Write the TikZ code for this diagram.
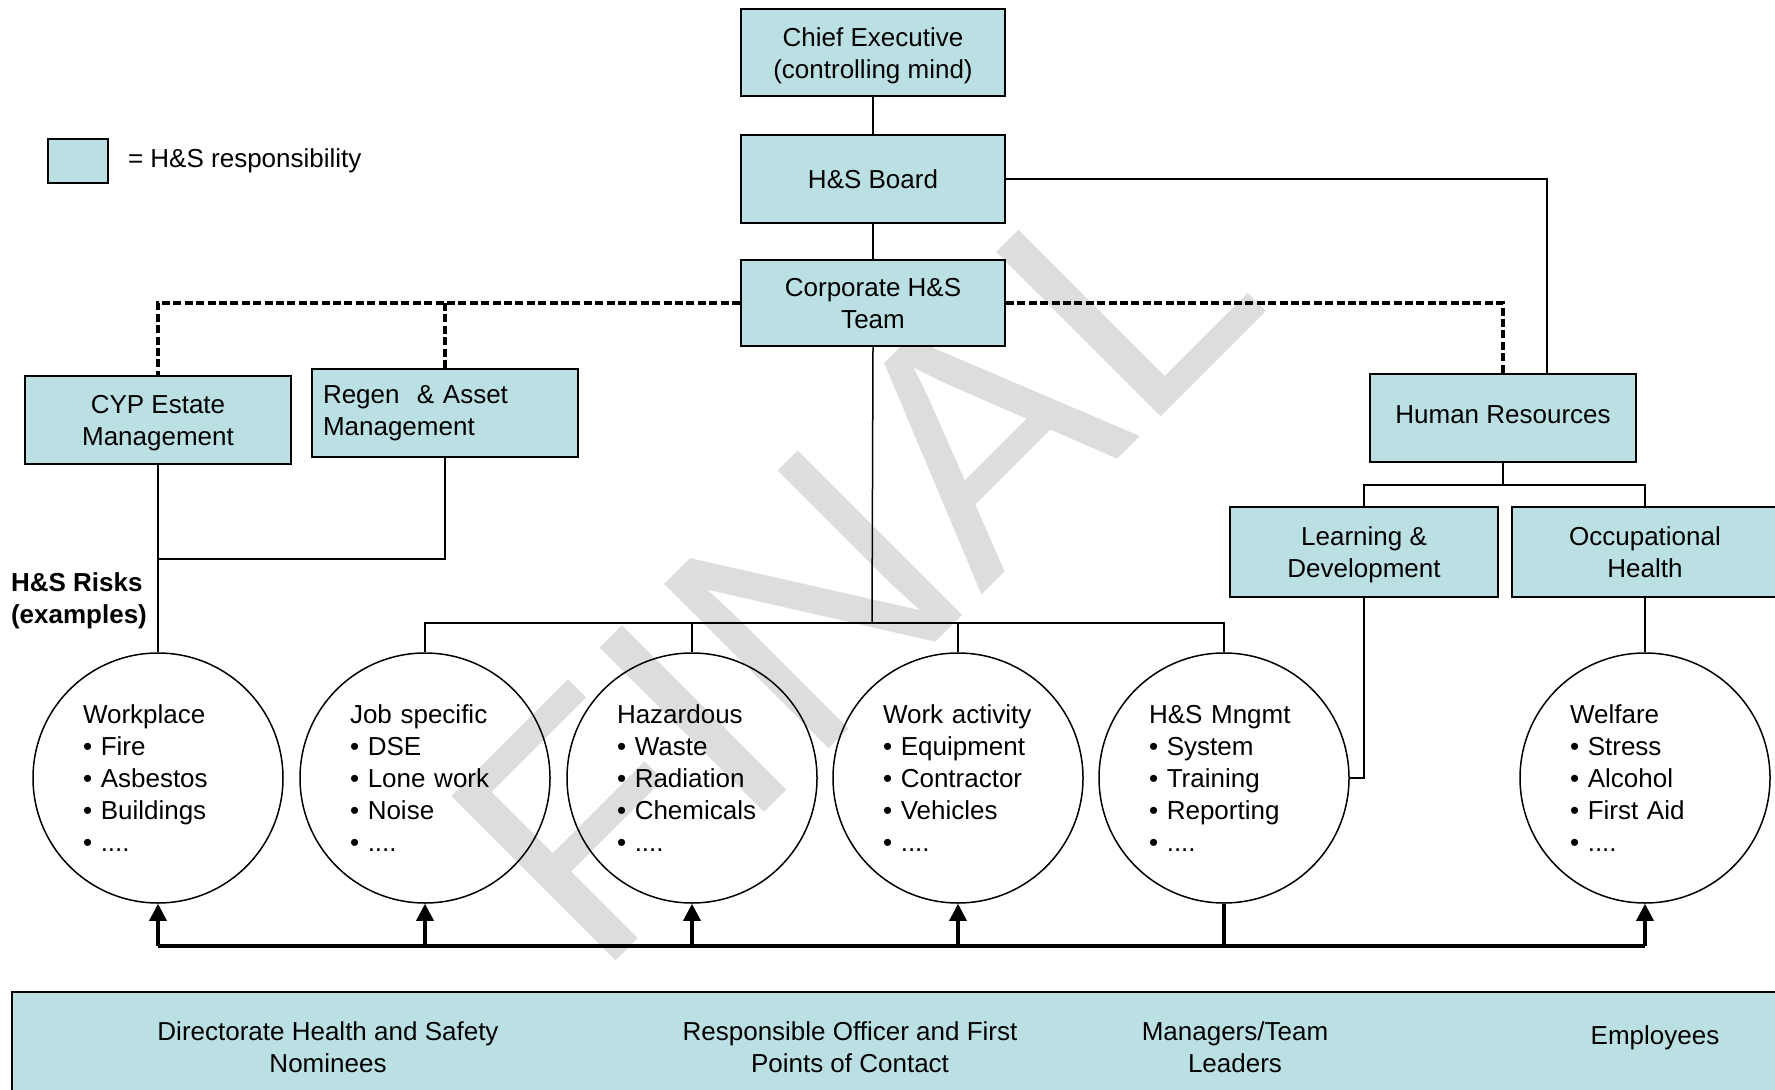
\documentclass[tikz,border=0pt]{standalone}
\usepackage{fontspec}
\setmainfont{Liberation Sans}
\usetikzlibrary{arrows.meta}
\usetikzlibrary{positioning}
\definecolor{hsblue}{RGB}{187,224,227}
\definecolor{wmgray}{RGB}{221,221,221}
\tikzset{
    hsbox/.style={draw=black, fill=hsblue, line width=1pt, align=center, inner sep=5pt,
        text depth=0pt, font=\fontsize{13}{16}\selectfont},
    riskcircle/.style={draw=black, circle, line width=0.75pt, minimum size=125pt,
        text width=75pt, align=left, font=\fontsize{13}{16}\selectfont},
    stafftext/.style={align=center, text depth=0pt, font=\fontsize{13}{16}\selectfont},
    link/.style={draw=black, line width=0.75pt},
    dottedlink/.style={draw=black, line width=1.8pt, dash pattern=on 4pt off 1.7pt},
    busline/.style={draw=black, line width=1.6pt},
    busarrow/.style={draw=black, line width=1.6pt, -{Triangle[width=8.5pt,length=8.5pt]}},
}

\begin{document}
\begin{tikzpicture}[x=0.5pt, y=-0.5pt]
	\useasboundingbox (0,0) rectangle (1775,1090);
	\node[rotate=45, text=wmgray, font=\fontsize{169}{169}\selectfont] (wm) at (853,560) {FINAL};
	% legend
	\node[hsbox, minimum width=30pt, minimum height=22pt, inner sep=0pt] (key) at (78,161) {};
	\node[right=6pt of key, font=\fontsize{13}{16}\selectfont] (keytext) {= H\&S responsibility};
	% boxes
	\node[hsbox, minimum width=132pt, minimum height=43.5pt] (ceo) at (873,53) {Chief Executive\\(controlling mind)};
	\node[hsbox, minimum width=132pt, minimum height=44pt] (board) at (873,179) {H\&S Board};
	\node[hsbox, minimum width=132pt, minimum height=43pt] (corp) at (873,303) {Corporate H\&S\\Team};
	\node[hsbox, minimum width=133pt, minimum height=43.5pt] (cyp) at (158,420) {CYP Estate\\Management};
	\node[hsbox, align=left, text depth=, inner xsep=5.5pt, text width=122pt, minimum height=44pt] (regen) at (445,413) {Regen\ \ \& Asset\\Management};
	\node[hsbox, minimum width=133pt, minimum height=43.5pt] (hr) at (1503,418) {\raisebox{3.5pt}{Human Resources}};
	\node[hsbox, minimum width=134pt, minimum height=45pt] (ld) at (1364,552) {Learning \&\\Development};
	\node[hsbox, minimum width=133pt, minimum height=45pt] (oh) at (1645,552) {Occupational\\Health};
	% risks
	\node[anchor=west, align=left, font=\fontsize{13}{16}\selectfont\bfseries] (risklbl) at (4,601) {H\&S Risks\\(examples)};
	\node[riskcircle] (wp) at (158,778) {Workplace\\\textbullet\ Fire\\\textbullet\ Asbestos\\\textbullet\ Buildings\\\textbullet\ ....};
	\node[riskcircle] (job) at (425,778) {Job specific\\\textbullet\ DSE\\\textbullet\ Lone work\\\textbullet\ Noise\\\textbullet\ ....};
	\node[riskcircle] (haz) at (692,778) {Hazardous\\\textbullet\ Waste\\\textbullet\ Radiation\\\textbullet\ Chemicals\\\textbullet\ ....};
	\node[riskcircle] (act) at (958,778) {Work activity\\\textbullet\ Equipment\\\textbullet\ Contractor\\\textbullet\ Vehicles\\\textbullet\ ....};
	\node[riskcircle] (mng) at (1224,778) {H\&S Mngmt\\\textbullet\ System\\\textbullet\ Training\\\textbullet\ Reporting\\\textbullet\ ....};
	\node[riskcircle] (wel) at (1645,778) {Welfare\\\textbullet\ Stress\\\textbullet\ Alcohol\\\textbullet\ First Aid\\\textbullet\ ....};
	% staff
	\node[hsbox, minimum width=889pt, minimum height=54pt] (staff) at (901,1046) {};
	\node[stafftext] (dhs) at (328,1047) {Directorate Health and Safety\\Nominees};
	\node[stafftext] (rofp) at (850,1047) {Responsible Officer and First\\Points of Contact};
	\node[stafftext] (mtl) at (1235,1047) {Managers/Team\\Leaders};
	\node[stafftext] (emp) at (1655,1035) {Employees};
	% connectors
	\coordinate (estjoin) at (158,559);
	\coordinate (corpjoin) at (872,623);
	\coordinate (hrjoin) at (1503,485);
	\coordinate (busjoin) at (1224,946);
	\draw[link] (ceo) -- (board);
	\draw[link] (board) -- (corp);
	\draw[link] (board.east) -| ([xshift=22pt]hr.north);
	\draw[dottedlink] (corp.west) -| (cyp.north);
	\draw[dottedlink] (regen.north |- corp.west) -- (regen.north);
	\draw[dottedlink] (corp.east) -| (hr.north);
	\draw[link] (cyp.south) -- (wp.north);
	\draw[link] (regen.south) |- (estjoin);
	\draw[link] (corp.south) -- (corpjoin);
	\draw[link] (job.north) |- (corpjoin) -| (mng.north);
	\draw[link] (haz.north) -- (haz.north |- corpjoin);
	\draw[link] (act.north) -- (act.north |- corpjoin);
	\draw[link] (hr.south) -- (hrjoin);
	\draw[link] (ld.north) |- (hrjoin) -| (oh.north);
	\draw[link] (ld.south) |- (mng.east);
	\draw[link] (oh.south) -- (wel.north);
	% bus to the risks
	\draw[busline] (mng.south) -- (busjoin);
	\draw[busline] (wp.south |- busjoin) -- (wel.south |- busjoin);
	\foreach \r in {wp,job,haz,act,wel}
		\draw[busarrow] (\r.south |- busjoin) -- (\r.south);
\end{tikzpicture}
\end{document}
